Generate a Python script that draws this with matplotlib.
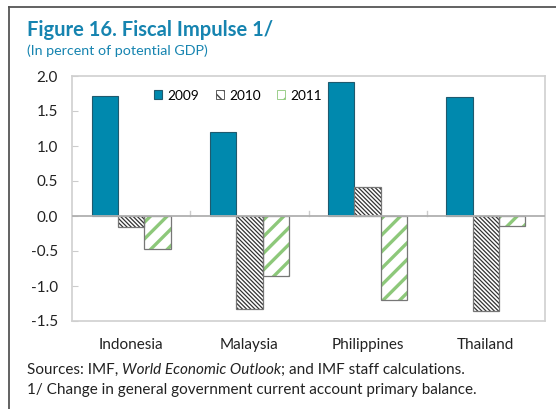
import matplotlib
matplotlib.use("Agg")
import matplotlib.pyplot as plt
import numpy as np
from matplotlib.lines import Line2D

plt.rcParams['font.family'] = ['Lato', 'DejaVu Sans']

countries = ["Indonesia", "Malaysia", "Philippines", "Thailand"]
years = ["2009", "2010", "2011"]
v2009 = [1.71, 1.20, 1.91, 1.70]
v2010 = [-0.16, -1.33, 0.42, -1.36]
v2011 = [-0.47, -0.85, -1.20, -0.14]
yticks = [-1.5, -1.0, -0.5, 0.0, 0.5, 1.0, 1.5, 2.0]

teal = "#0089AE"
title_col = "#1684B0"
green = "#8DC87A"

fig = plt.figure(figsize=(5.56, 4.09), dpi=100)
W, H = 556, 409
ax = fig.add_axes([72 / W, 1 - 321 / H, 473 / W, 245 / H])

x = np.arange(len(countries))
bw = 0.222

ax.bar(x - bw, v2009, bw, color=teal, edgecolor="#1f5a6e", linewidth=0.8, zorder=3)

def hatched(xpos, vals, hatch, hcolor, hlw):
    with plt.rc_context({"hatch.linewidth": hlw, "hatch.color": hcolor}):
        bars = ax.bar(xpos, vals, bw, color="white", edgecolor=hcolor, linewidth=0,
                      hatch=hatch, zorder=3)
        for b in bars:
            if hasattr(b, "set_hatch_linewidth"):
                b.set_hatch_linewidth(hlw)
    ax.bar(xpos, vals, bw, color="none", edgecolor="#777777", linewidth=0.9, zorder=4)
    return bars

hatched(x, v2010, "\\" * 8, "#333333", 0.9)
hatched(x + bw, v2011, "//", green, 2.4)

ax.set_xlim(-0.5, 3.5)
ax.set_ylim(-1.5, 2.0)
ax.set_yticks(yticks)
ax.set_yticklabels([f"{t:.1f}" for t in yticks], fontsize=11, color="#222222")
ax.tick_params(axis="y", direction="in", length=4, color="#cccccc", pad=10)
ax.set_xticks(x)
ax.set_xticklabels(countries, fontsize=11, color="#222222")
ax.tick_params(axis="x", length=0, pad=12)
for s in ax.spines.values():
    s.set_color("#d0d0d0")
    s.set_linewidth(1.2)
ax.axhline(0, color="#b0b0b0", linewidth=1.3, zorder=5)
for b in [0.5, 1.5, 2.5]:
    ax.plot([b, b], [0, 0.07], color="#cccccc", linewidth=1.0, zorder=2)

with plt.rc_context({"hatch.linewidth": 0.8}):
    handles = [
        plt.Rectangle((0, 0), 1, 1, facecolor=teal, edgecolor="#1f5a6e", linewidth=0.8),
        plt.Rectangle((0, 0), 1, 1, facecolor="white", edgecolor="#444444", hatch="\\\\\\", linewidth=0.6),
        plt.Rectangle((0, 0), 1, 1, facecolor="white", edgecolor=green, hatch="//", linewidth=0.6),
    ]
ax.legend(handles, years, loc="upper left", bbox_to_anchor=(0.145, 1.0), ncol=3, frameon=False,
          fontsize=9.8, handlelength=0.6, handleheight=0.6, handletextpad=0.38, columnspacing=1.2,
          borderpad=0.5)

fig.text(27 / W, 1 - 30 / H, "Figure 16. Fiscal Impulse 1/", fontsize=14.5, fontweight="bold",
         color=title_col, va="center")
fig.text(27 / W, 1 - 51 / H, "(In percent of potential GDP)", fontsize=10.3, color=title_col, va="center")

# sources line, mixed upright and italic pieces
parts = [("Sources: IMF, ", "normal"), ("World Economic Outlook", "italic"),
         ("; and IMF staff calculations.", "normal")]
renderer = fig.canvas.get_renderer()
xpos = 27
for txt, style in parts:
    t = fig.text(xpos / W, 1 - 370 / H, txt, fontsize=11, fontstyle=style, color="#222222", va="center")
    xpos += t.get_window_extent(renderer).width
fig.text(27 / W, 1 - 390 / H, "1/ Change in general government current account primary balance.",
         fontsize=11, color="#222222", va="center")

fig.add_artist(Line2D([9 / W, 9 / W], [0, 1 - 7 / H], color="#555555", linewidth=1.3))
fig.add_artist(Line2D([9 / W, 1], [1 - 7 / H, 1 - 7 / H], color="#555555", linewidth=1.3))

fig.savefig("out.png", dpi=100)
